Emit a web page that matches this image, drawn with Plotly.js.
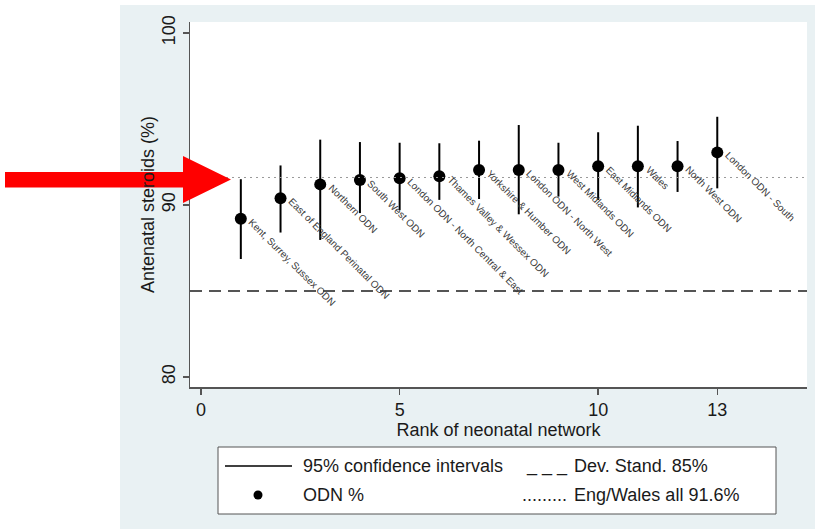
<!DOCTYPE html>
<html><head><meta charset="utf-8">
<script src="https://cdn.plot.ly/plotly-3.0.1.min.js"></script>
<style>html,body{margin:0;padding:0;background:#fff;}</style>
</head><body>
<div id="chart" style="width:815px;height:529px;"></div>
<script>
// ---- data ----
const ranks = [1,2,3,4,5,6,7,8,9,10,11,12,13];
const networks = [
  "Kent, Surrey, Sussex ODN",
  "East of England Perinatal ODN",
  "Northern ODN",
  "South West ODN",
  "London ODN - North Central & East",
  "Thames Valley & Wessex ODN",
  "Yorkshire & Humber ODN",
  "London ODN - North West",
  "West Midlands ODN",
  "East Midlands ODN",
  "Wales",
  "North West ODN",
  "London ODN - South"
];
const odnPct  = [89.2, 90.4, 91.2, 91.45, 91.55, 91.67, 92.03, 92.03, 92.03, 92.25, 92.25, 92.25, 93.06];
const ciUpper = [91.5, 92.3, 93.8, 93.66, 93.62, 93.59, 93.74, 94.65, 93.62, 94.23, 94.61, 93.72, 95.13];
const ciLower = [86.86, 88.4, 87.97, 89.53, 89.7, 90.3, 90.35, 89.46, 90.49, 90.29, 89.86, 90.76, 90.97];
const devStandard = 85;
const engWalesAll = 91.6;
const xTicks = [0,5,10,13];
const yTicks = [80,90,100];
const legendItems = ["95% confidence intervals","ODN %","Dev. Stand. 85%","Eng/Wales all 91.6%"];

// ---- geometry helpers (pixels -> paper) ----
const W = 815, H = 529, L = 190, R = 8, T = 22, B = 142;
const pw = W - L - R, ph = H - T - B;
const px = x => (x - L) / pw;
const py = y => (H - B - y) / ph;

const trace = {
  x: ranks, y: odnPct, type: 'scatter', mode: 'markers',
  marker: {color: '#000', size: 12},
  error_y: {type: 'data', symmetric: false,
    array: odnPct.map((v,i) => ciUpper[i] - v),
    arrayminus: odnPct.map((v,i) => v - ciLower[i]),
    color: '#000', thickness: 2, width: 0},
  hoverinfo: 'none', showlegend: false, cliponaxis: false
};

const annotations = networks.map((n,i) => ({
  x: ranks[i], y: odnPct[i], xref: 'x', yref: 'y', text: n, showarrow: false,
  textangle: 45, xanchor: 'left', yanchor: 'top', xshift: 3, yshift: 5,
  font: {family: 'Liberation Sans, Arial, sans-serif', size: 10, color: '#3a3a3a'}
}));

const lf = {family: 'Liberation Sans, Arial, sans-serif', size: 18, color: '#1a1a1a'};
const legRow1 = 466, legRow2 = 495;
annotations.push(
  {xref:'paper', yref:'paper', x: px(301), y: py(legRow1), text: legendItems[0], showarrow:false, xanchor:'left', yanchor:'middle', font: lf},
  {xref:'paper', yref:'paper', x: px(301), y: py(legRow2), text: legendItems[1], showarrow:false, xanchor:'left', yanchor:'middle', font: lf},
  {xref:'paper', yref:'paper', x: px(524), y: py(legRow1), text: '_ _ _', showarrow:false, xanchor:'left', yanchor:'middle', font: lf},
  {xref:'paper', yref:'paper', x: px(572), y: py(legRow1), text: legendItems[2], showarrow:false, xanchor:'left', yanchor:'middle', font: lf},
  {xref:'paper', yref:'paper', x: px(520), y: py(legRow2), text: '.........', showarrow:false, xanchor:'left', yanchor:'middle', font: lf},
  {xref:'paper', yref:'paper', x: px(572), y: py(legRow2), text: legendItems[3], showarrow:false, xanchor:'left', yanchor:'middle', font: lf}
);

const shapes = [
  // white strips outside the grey panel
  {type:'rect', xref:'paper', yref:'paper', x0: px(0), x1: px(120), y0: py(H), y1: py(0), fillcolor:'#fff', line:{width:0}, layer:'below'},
  {type:'rect', xref:'paper', yref:'paper', x0: px(0), x1: px(W), y0: py(5), y1: py(0), fillcolor:'#fff', line:{width:0}, layer:'below'},
  // reference lines
  {type:'line', xref:'paper', yref:'y', x0: 0, x1: 1, y0: devStandard, y1: devStandard, line:{color:'#555', width:2, dash:'12px,7px'}},
  {type:'line', xref:'paper', yref:'y', x0: 0, x1: 1, y0: engWalesAll, y1: engWalesAll, line:{color:'#999', width:1, dash:'2px,4px'}},
  // legend box
  {type:'rect', xref:'paper', yref:'paper', x0: px(218), x1: px(776), y0: py(514), y1: py(447), fillcolor:'#fff', line:{color:'#555', width:1}},
  {type:'line', xref:'paper', yref:'paper', x0: px(225), x1: px(292), y0: py(legRow1), y1: py(legRow1), line:{color:'#000', width:1.5}},
  {type:'circle', xref:'paper', yref:'paper', x0: px(253.5), x1: px(262.5), y0: py(legRow2+4.5), y1: py(legRow2-4.5), fillcolor:'#000', line:{width:0}},
  // red arrow
  {type:'path', xref:'paper', yref:'paper', fillcolor:'#ff0000', line:{width:0},
   path: 'M ' + px(5) + ' ' + py(172) + ' L ' + px(183) + ' ' + py(172) + ' L ' + px(183) + ' ' + py(156) +
         ' L ' + px(231) + ' ' + py(179.5) + ' L ' + px(183) + ' ' + py(203) + ' L ' + px(183) + ' ' + py(187.5) +
         ' L ' + px(5) + ' ' + py(187.5) + ' Z'}
];

const tf = {family: 'Liberation Sans, Arial, sans-serif', size: 18, color: '#1a1a1a'};
const layout = {
  width: W, height: H,
  margin: {l: L, r: R, t: T, b: B, pad: 0},
  paper_bgcolor: '#e9f1f3', plot_bgcolor: '#fff',
  showlegend: false,
  xaxis: {range: [-0.28, 15.26], tickvals: xTicks, ticktext: xTicks.map(String),
    showline: true, linecolor: '#555', linewidth: 1.5, ticks: 'outside', ticklen: 6, tickcolor: '#555', tickwidth: 1.5,
    showgrid: false, zeroline: false, tickfont: tf,
    title: {text: 'Rank of neonatal network', font: tf, standoff: 0}},
  yaxis: {range: [79.42, 100.64], tickvals: yTicks, ticktext: yTicks.map(String), tickangle: -90,
    showline: true, linecolor: '#555', linewidth: 1.5, ticks: 'outside', ticklen: 6, tickcolor: '#555', tickwidth: 1.5,
    showgrid: false, zeroline: false, tickfont: tf,
    title: {text: 'Antenatal steroids (%)', font: tf, standoff: 0}},
  shapes: shapes,
  annotations: annotations
};

Plotly.newPlot('chart', [trace], layout, {displayModeBar: false, staticPlot: true});
</script>
</body></html>
